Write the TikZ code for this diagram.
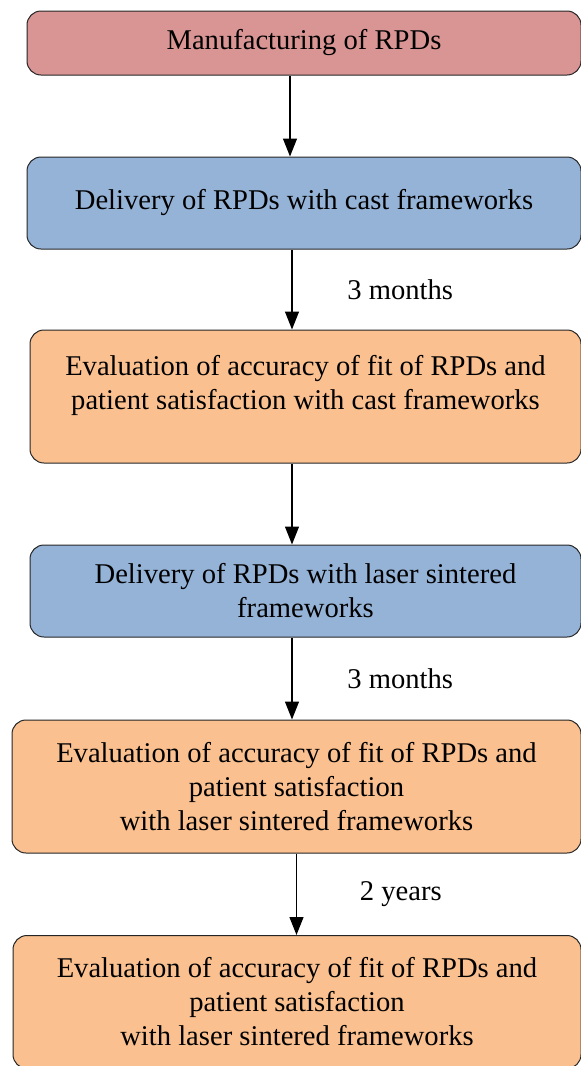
\documentclass[tikz,border=0pt]{standalone}
\usepackage{fontspec}
\setmainfont{Liberation Serif}
\usetikzlibrary{arrows.meta,positioning}
\definecolor{manred}{HTML}{D99594}
\definecolor{delblue}{HTML}{95B3D7}
\definecolor{evalorange}{HTML}{FAC090}
\tikzset{
  blk/.style={draw=black!85,line width=0.5pt,rounded corners=7pt,align=center,
    font=\fontsize{14.3}{17}\selectfont,inner sep=0pt},
  redblk/.style={blk,fill=manred},
  blueblk/.style={blk,fill=delblue},
  orangeblk/.style={blk,fill=evalorange},
  arr/.style={-{Triangle[width=7pt,length=9pt]},line width=0.7pt},
  lbl/.style={font=\fontsize{14.3}{17}\selectfont}
}
\begin{document}
\begin{tikzpicture}[x=0.5pt,y=-0.5pt]
  \useasboundingbox (0,0) rectangle (581,1066);
  % manufacturing and first delivery
  \node[redblk,minimum width=277pt,minimum height=32pt] (manuf) at (304,43) {Manufacturing of RPDs};
  \node[blueblk,minimum width=277pt,minimum height=46pt] (castdel) at (304,203) {Delivery of RPDs with cast frameworks};
  \node[orangeblk,minimum width=275.5pt,minimum height=66.5pt] (casteval) at (305.5,396.5) {Evaluation of accuracy of fit of RPDs and\\patient satisfaction with cast frameworks\\[-3pt]~};

  % laser sintered frameworks
  \node[blueblk,minimum width=275.5pt,minimum height=46pt] (laserdel) at (305.5,591) {Delivery of RPDs with laser sintered\\frameworks};
  \node[orangeblk,minimum width=284.5pt,minimum height=66.5pt] (lasereval) at (296.5,786.5) {Evaluation of accuracy of fit of RPDs and\\patient satisfaction\\with laser sintered frameworks};
  \node[orangeblk,minimum width=284pt,minimum height=66.5pt] (finaleval) at (297,1002) {Evaluation of accuracy of fit of RPDs and\\patient satisfaction\\with laser sintered frameworks};

  \draw[arr] ([xshift=-7pt]manuf.south) -- ([xshift=-7pt]manuf.south |- castdel.north);
  \draw[arr] ([xshift=-6pt]castdel.south) -- ([xshift=-6pt]castdel.south |- casteval.north)
    node[midway,right=24pt,lbl] {3 months};
  \draw[arr] ([xshift=-6.75pt]casteval.south) -- ([xshift=-6.75pt]casteval.south |- laserdel.north);
  \draw[arr] ([xshift=-6.75pt]laserdel.south) -- ([xshift=-6.75pt]laserdel.south |- lasereval.north)
    node[midway,right=24pt,lbl] {3 months};
  \draw[arr] (lasereval.south) -- (lasereval.south |- finaleval.north)
    node[midway,right=28pt,lbl] {2 years};
\end{tikzpicture}
\end{document}
